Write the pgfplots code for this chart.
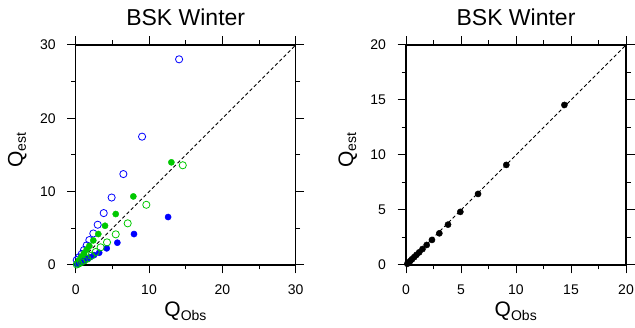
\documentclass[border=0pt]{standalone}
\usepackage{fontspec}
\setmainfont{Liberation Sans}
\usepackage{pgfplots}
\pgfplotsset{compat=1.18}
\definecolor{ngreen}{RGB}{0,200,0}
\pgfplotsset{
  ncl/.style={
    scale only axis, width=220pt, height=220pt,
    axis line style={line width=1.6pt},
    tick align=outside, tick pos=both,
    major tick length=8.5pt, minor tick length=4.5pt,
    every tick/.style={black, line width=1pt},
    minor tick num=1,
    /pgf/number format/assume math mode=true,
    ticklabel style={font=\fontsize{14}{16}\selectfont},
    yticklabel style={xshift=-8pt},
    xticklabel style={yshift=-8pt},
    clip=false,
  },
  dia/.style={black, dashed, line width=0.9pt, dash pattern=on 3.5pt off 2.5pt, forget plot},
}
\begin{document}
\begin{tikzpicture}
\useasboundingbox (-75.7pt,-63pt) rectangle (559.3pt,265pt);
\begin{axis}[ncl, at={(0pt,0pt)}, anchor=south west,
  xmin=0, xmax=30, ymin=0, ymax=30,
  xtick={0,10,20,30}, ytick={0,10,20,30}]
\addplot[dia] coordinates {(0,0) (30,30)};
% blue open
\addplot[only marks, mark=o, mark size=3.6pt, blue, mark options={line width=0.8pt}] coordinates {
(14.1,28.05) (9.05,17.5) (6.5,12.4) (4.9,9.2) (3.82,7.08) (3.0,5.49) (2.4,4.3) (1.86,3.4) (1.5,2.68) (1.13,2.04) (0.82,1.5) (0.45,1.05) (0.14,0.68)};
% green filled
\addplot[only marks, mark=*, mark size=3.1pt, ngreen] coordinates {
(13.05,14.0) (7.86,9.35) (5.46,6.95) (4.0,5.35) (3.08,4.22) (2.4,3.35) (1.86,2.6) (1.5,2.1) (1.13,1.6) (0.8,1.15) (0.45,0.65) (0.15,0.2)};
% blue filled
\addplot[only marks, mark=*, mark size=3.1pt, blue] coordinates {
(12.6,6.54) (7.95,4.22) (5.68,3.04) (4.23,2.27) (3.2,1.67) (2.5,1.35) (1.95,1.05) (1.55,0.85) (1.2,0.65) (0.85,0.47) (0.5,0.28) (0.2,0.1)};
% green open
\addplot[only marks, mark=o, mark size=3.6pt, ngreen, mark options={line width=0.8pt}] coordinates {
(14.6,13.6) (9.63,8.21) (7.09,5.68) (5.46,4.18) (4.27,3.09) (3.4,2.41) (2.73,1.77) (2.13,1.27) (1.58,0.86) (1.13,0.59) (0.72,0.37) (0.4,0.19) (0.15,0.07)};
\node[anchor=base, font=\fontsize{23}{26}\selectfont] at ([yshift=19pt]rel axis cs:0.5,1) {BSK Winter};
\node[anchor=base, font=\fontsize{21}{24}\selectfont] at ([yshift=-52pt]rel axis cs:0.5,0) {Q\textsubscript{\fontsize{14}{16}\selectfont Obs}};
\node[anchor=base, rotate=90, font=\fontsize{21}{24}\selectfont] at ([xshift=-53pt, yshift=5pt]rel axis cs:0,0.5) {Q\textsubscript{\fontsize{14}{16}\selectfont est}};
\end{axis}
\begin{axis}[ncl, at={(330.3pt,0pt)}, anchor=south west,
  xmin=0, xmax=20, ymin=0, ymax=20,
  xtick={0,5,10,15,20}, ytick={0,5,10,15,20}]
\addplot[dia] coordinates {(0,0) (20,20)};
\addplot[only marks, mark=*, mark size=3.1pt, black] coordinates {
(14.4,14.55) (9.12,9.1) (6.55,6.46) (4.94,4.83) (3.82,3.67) (3.03,2.88) (2.36,2.28) (1.88,1.82) (1.5,1.45) (1.2,1.15) (0.95,0.92) (0.75,0.72) (0.55,0.53) (0.4,0.38) (0.25,0.24) (0.12,0.11)};
\node[anchor=base, font=\fontsize{23}{26}\selectfont] at ([yshift=19pt]rel axis cs:0.5,1) {BSK Winter};
\node[anchor=base, font=\fontsize{21}{24}\selectfont] at ([yshift=-52pt]rel axis cs:0.5,0) {Q\textsubscript{\fontsize{14}{16}\selectfont Obs}};
\node[anchor=base, rotate=90, font=\fontsize{21}{24}\selectfont] at ([xshift=-53pt, yshift=5pt]rel axis cs:0,0.5) {Q\textsubscript{\fontsize{14}{16}\selectfont est}};
\end{axis}
\end{tikzpicture}
\end{document}
